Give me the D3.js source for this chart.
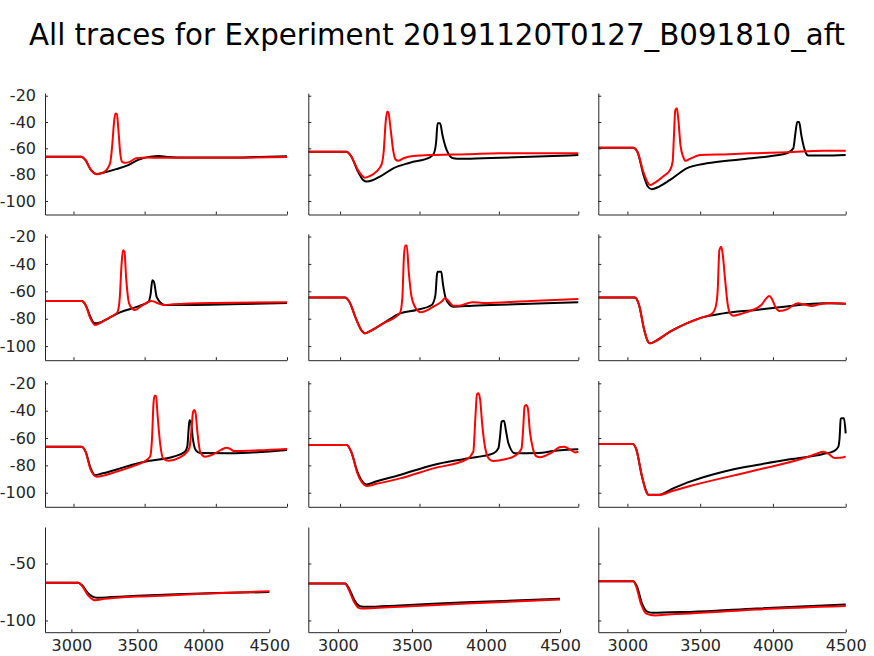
<!DOCTYPE html>
<html><head><meta charset="utf-8">
<script src="https://cdn.jsdelivr.net/npm/d3@7"></script>
<style>body{margin:0;background:#fff}svg{display:block}</style>
</head><body><svg id="c" width="874" height="656"></svg>
<script>
// ---- data: [time (ms), membrane potential (mV)] ----
const p11_black=[[2800,-66.3],[3055,-66.3],[3085,-69],[3120,-76],[3165,-79.5],[3210,-78.5],[3300,-75.8],[3385,-72.7],[3460,-68.5],[3540,-66.3],[3600,-65.8],[3660,-66.5],[3800,-67],[4100,-67],[4300,-66.5],[4500,-66]];
const p11_red=[[2800,-66.3],[3055,-66.3],[3085,-69],[3120,-76],[3165,-79.7],[3200,-78.8],[3235,-76],[3258,-71],[3272,-58],[3285,-40],[3295,-33.5],[3305,-34],[3315,-45],[3328,-63],[3340,-70],[3360,-71],[3390,-70.5],[3440,-67.5],[3520,-67],[3600,-67.2],[4000,-67.2],[4500,-66.5]];
const p12_black=[[2800,-62.5],[3040,-62.5],[3070,-66],[3110,-77],[3145,-84],[3168,-85.3],[3200,-84.5],[3251,-81.5],[3335,-75.2],[3440,-70.9],[3566,-66.8],[3590,-64],[3605,-55],[3614,-41],[3630,-41],[3645,-50],[3671,-61.2],[3713,-67.6],[3760,-68],[3900,-67.5],[4100,-66.8],[4500,-65.1]];
const p12_red=[[2800,-62.5],[3040,-62.5],[3070,-66],[3110,-76],[3140,-81],[3157,-82.3],[3190,-81],[3230,-77.5],[3262,-72],[3275,-62],[3287,-40],[3297,-32],[3305,-33],[3318,-45],[3335,-62],[3350,-68.5],[3365,-69.5],[3400,-67.5],[3461,-65.8],[3600,-65],[3800,-64.5],[4000,-63.7],[4500,-63.7]];
const p13_black=[[2800,-59.5],[3040,-59.5],[3070,-63],[3110,-80],[3140,-89],[3167,-91.1],[3200,-90],[3293,-84],[3407,-75.2],[3545,-71.4],[3774,-68.4],[4002,-65.6],[4100,-63.5],[4140,-60],[4155,-48],[4167,-40],[4180,-40],[4195,-50],[4215,-60],[4243,-65.5],[4350,-65.5],[4500,-65.1]];
const p13_red=[[2800,-59.5],[3040,-59.5],[3070,-63],[3110,-78],[3140,-86],[3155,-87.9],[3190,-86],[3250,-81],[3293,-76.5],[3311,-70],[3320,-50],[3329,-31],[3340,-29.5],[3350,-38],[3365,-58],[3385,-67],[3400,-69.5],[3430,-68],[3499,-65.1],[3700,-64.5],[3842,-63.8],[4100,-63],[4346,-61.8],[4500,-61.8]];
const p21_black=[[2800,-67.1],[3058,-67.1],[3085,-70],[3120,-79],[3150,-83.4],[3180,-83],[3250,-79.5],[3327,-75.4],[3468,-70.5],[3527,-67.6],[3542,-62],[3554,-52],[3565,-53],[3585,-64.3],[3643,-70],[3800,-70],[4100,-69.5],[4500,-68.5]];
const p21_red=[[2800,-67.1],[3058,-67.1],[3085,-70],[3120,-80],[3151,-84.6],[3180,-83.5],[3244,-79.7],[3290,-77],[3310,-75],[3325,-65],[3338,-40],[3348,-30],[3358,-31],[3370,-50],[3385,-66],[3400,-71],[3432,-73.6],[3480,-70.5],[3549,-67.1],[3600,-69],[3632,-70],[3700,-69.5],[4000,-68.5],[4500,-68]];
const p22_black=[[2800,-64.6],[3031,-64.6],[3060,-68],[3100,-80],[3135,-88.5],[3157,-90.7],[3190,-89],[3272,-83.4],[3377,-76.1],[3482,-73.6],[3577,-70],[3600,-63],[3610,-48],[3615,-45.7],[3637,-45.7],[3648,-55],[3665,-65],[3692,-70],[3713,-71.2],[3833,-70.5],[4100,-69.5],[4500,-68]];
const p22_red=[[2800,-64.6],[3031,-64.6],[3060,-68],[3100,-80],[3135,-88.5],[3157,-90.7],[3190,-89],[3272,-83.4],[3377,-76],[3392,-65],[3402,-35],[3410,-26.5],[3420,-26.5],[3432,-45],[3450,-64],[3475,-72],[3508,-75.3],[3588,-71.2],[3640,-67.5],[3661,-65.1],[3690,-68],[3713,-70.6],[3750,-70.5],[3833,-68],[3900,-68.5],[4200,-67],[4500,-65.6]];
const p23_black=[[2800,-64.6],[3052,-64.6],[3080,-70],[3115,-88],[3140,-96.5],[3155,-98],[3190,-96.5],[3293,-89.5],[3407,-83.4],[3510,-79.2],[3659,-76.1],[3887,-73.6],[4117,-70.7],[4346,-68.8],[4500,-69]];
const p23_red=[[2800,-64.6],[3052,-64.6],[3080,-70],[3115,-88],[3140,-96.5],[3155,-98],[3190,-96.5],[3293,-89.5],[3407,-83.4],[3510,-79.2],[3580,-76.5],[3605,-72],[3620,-60],[3632,-30],[3645,-27.4],[3655,-33],[3670,-50],[3690,-70],[3705,-76.1],[3728,-77.8],[3780,-76.5],[3842,-74.4],[3920,-70],[3960,-64.5],[3975,-63.4],[3995,-66],[4020,-72],[4044,-74.4],[4100,-73],[4150,-69.5],[4174,-68.8],[4210,-69.5],[4266,-70.7],[4320,-69.5],[4400,-68.5],[4500,-69]];
const p31_black=[[2800,-66.3],[3058,-66.3],[3085,-70],[3120,-82],[3150,-87.1],[3200,-86],[3303,-83],[3420,-79.3],[3538,-76.6],[3701,-73.7],[3783,-70],[3800,-66],[3808,-55],[3815,-47],[3825,-48],[3838,-60],[3860,-69],[3890,-71],[4100,-71.2],[4500,-68.7]];
const p31_red=[[2800,-66.3],[3058,-66.3],[3085,-70],[3120,-83],[3163,-88.3],[3210,-87.5],[3303,-84.6],[3420,-80.5],[3514,-76.1],[3540,-73],[3552,-60],[3562,-35],[3570,-29],[3580,-29],[3592,-45],[3610,-65],[3630,-75],[3666,-76.6],[3748,-74.1],[3790,-71],[3815,-67],[3828,-55],[3840,-41],[3848,-39.5],[3858,-42],[3870,-55],[3890,-70],[3924,-73.7],[3980,-72],[4040,-68.5],[4076,-67.1],[4110,-68.5],[4123,-69.5],[4300,-69],[4500,-68]];
const p32_black=[[2800,-65.1],[3042,-65.1],[3070,-70],[3110,-85],[3150,-93],[3168,-93.9],[3220,-92],[3377,-87],[3587,-79.7],[3797,-75],[3965,-71.2],[3997,-67.5],[4008,-58],[4017,-48],[4032,-47.3],[4045,-55],[4059,-63.4],[4101,-71.2],[4250,-71],[4342,-69.5],[4500,-68.3]];
const p32_red=[[2800,-65.1],[3042,-65.1],[3070,-70],[3110,-86],[3150,-94],[3168,-95.1],[3230,-93.5],[3377,-89.5],[3587,-82.2],[3797,-75.6],[3839,-70],[3852,-45],[3862,-28],[3872,-27.3],[3882,-32],[3895,-50],[3915,-68],[3940,-75.5],[3965,-76.8],[4040,-75.5],[4091,-73.6],[4130,-70],[4143,-67.5],[4152,-55],[4162,-37],[4172,-35.9],[4182,-38],[4195,-55],[4215,-68],[4238,-73.5],[4258,-74.1],[4310,-72],[4342,-70],[4380,-66.8],[4410,-66.3],[4450,-68.5],[4480,-70.5],[4500,-70]];
const p33_black=[[2800,-64.4],[3036,-64.4],[3060,-68],[3100,-88],[3130,-99],[3144,-101.5],[3212,-101.5],[3315,-96.8],[3430,-91.9],[3659,-84.6],[3888,-79.7],[4117,-75.6],[4346,-71.7],[4420,-69.5],[4449,-66.5],[4458,-60],[4466,-46],[4472,-45.6],[4488,-45.6],[4500,-56.6]];
const p33_red=[[2800,-64.4],[3036,-64.4],[3060,-68],[3100,-88],[3130,-99.5],[3144,-101.7],[3212,-101.7],[3315,-98.5],[3430,-95.1],[3888,-83.4],[4232,-74.1],[4300,-71.5],[4346,-70],[4380,-71.5],[4410,-74],[4426,-74.6],[4460,-74.5],[4500,-73.6]];
const p41_black=[[2800,-67],[3053,-67],[3080,-69],[3130,-76.5],[3170,-79.5],[3200,-80.1],[3300,-79.5],[3500,-78.3],[3800,-77],[4100,-76],[4500,-75.1]];
const p41_red=[[2800,-67],[3053,-67],[3080,-69.5],[3130,-78.5],[3165,-81.8],[3179,-82.2],[3250,-81],[3343,-80.1],[3500,-79],[3722,-78.1],[4000,-76.5],[4500,-74.3]];
const p42_black=[[2800,-67.5],[3048,-67.5],[3075,-72],[3115,-83],[3150,-87.5],[3185,-88],[3419,-86.8],[3870,-84],[4500,-81]];
const p42_red=[[2800,-67.5],[3048,-67.5],[3070,-72],[3110,-84],[3140,-89],[3160,-89.5],[3250,-89],[3419,-88],[3870,-85.1],[4500,-81.6]];
const p43_black=[[2800,-65.5],[3040,-65.5],[3065,-70],[3100,-85],[3140,-92.5],[3180,-93.3],[3300,-92.7],[3430,-92.5],[3888,-89.5],[4500,-86]];
const p43_red=[[2800,-65.5],[3040,-65.5],[3060,-70],[3095,-86],[3130,-94],[3190,-95.6],[3300,-94.5],[3430,-93.9],[3888,-90.4],[4500,-87.4]];

const xTicks=[3000,3500,4000,4500];
const yTicks=[-20,-40,-60,-80,-100];
const yTicksLast=[-50,-100];
const xDomain=[2800,4500];
const yDomain=[-110.3,-18];
const titleText="All traces for Experiment 20191120T0127_B091810_aft";

// ---- layout ----
const traces=[
 [p11_black,p11_red],[p12_black,p12_red],[p13_black,p13_red],
 [p21_black,p21_red],[p22_black,p22_red],[p23_black,p23_red],
 [p31_black,p31_red],[p32_black,p32_red],[p33_black,p33_red],
 [p41_black,p41_red],[p42_black,p42_red],[p43_black,p43_red]];
const colX=[[45,287],[308.3,578.3],[598.3,845.7]];
const colXLast=[[45,269.3],[308.3,560],[598.3,845.7]];
const rowY=[[214.5,93.1],[360.2,233.8],[506.8,380.6],[632.2,527.0]];

const svg=d3.select("#c");
const font="'DejaVu Sans', sans-serif";
svg.append("text").attr("x",437).attr("y",45).attr("text-anchor","middle")
  .attr("font-family",font).attr("font-size",29.3).attr("fill","#000").text(titleText);

traces.forEach((tr,i)=>{
  const r=Math.floor(i/3), c=i%3, last=r===3;
  const x=d3.scaleLinear().domain(xDomain).range(last?colXLast[c]:colX[c]);
  const y=d3.scaleLinear().domain(yDomain).range(rowY[r]);
  const g=svg.append("g");
  const clipId="clip"+i;
  g.append("clipPath").attr("id",clipId).append("rect")
    .attr("x",x.range()[0]).attr("y",y.range()[1]-2)
    .attr("width",x.range()[1]-x.range()[0]+2).attr("height",y.range()[0]-y.range()[1]+2);
  const line=d3.line().x(d=>x(d[0])).y(d=>y(d[1])).curve(d3.curveMonotoneX);
  const colors=["#000000","#ff0000"];
  tr.forEach((s,k)=>{
    g.append("path").datum(s).attr("d",line).attr("fill","none")
      .attr("stroke",colors[k]).attr("stroke-width",2).attr("stroke-linejoin","round")
      .attr("clip-path",`url(#${clipId})`);
  });
  const ya=d3.axisLeft(y).tickValues(last?yTicksLast:yTicks).tickSizeInner(-3).tickSizeOuter(0).tickPadding(9)
    .tickFormat(c===0?(d=>d):(()=>""));
  const xa=d3.axisBottom(x).tickValues(xTicks).tickSizeInner(-3).tickSizeOuter(0).tickPadding(7)
    .tickFormat(last?(d=>d):(()=>""));
  const gy=g.append("g").attr("transform",`translate(${x.range()[0]},0)`).call(ya);
  const gx=g.append("g").attr("transform",`translate(0,${y.range()[0]})`).call(xa);
  [gx,gy].forEach(a=>{
    a.selectAll("path,line").attr("stroke","#262626").attr("stroke-width",1);
    a.selectAll("text").attr("fill","#262626").attr("font-size",16).attr("font-family",font);
  });
});
</script></body></html>
